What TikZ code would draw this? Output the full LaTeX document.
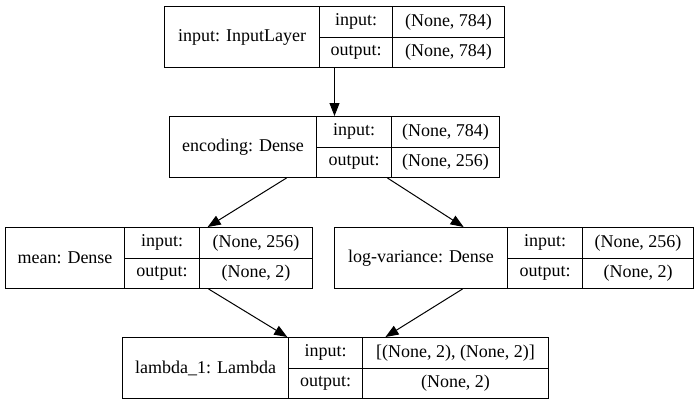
\documentclass[tikz,border=0pt]{standalone}
\usepackage{fontspec}
\setmainfont{Liberation Serif}
\usetikzlibrary{arrows.meta,calc,fit}
\tikzset{
  cell/.style={draw, line width=1pt, inner sep=0pt, anchor=north west, font=\fontsize{18}{20}\selectfont},
  edge/.style={-{Triangle[length=13pt,width=10pt]}, line width=1pt}
}
% name, x0, x1, x2, x3, ytop, label, input, output
\newcommand\kerasLayer[9]{%
  \node[cell, minimum width={#3-#2}, minimum height=61] (#1) at (#2,#6) {#7};
  \node[cell, minimum width={#4-#3}, minimum height=30.5] (#1-ik) at (#3,#6) {input:};
  \node[cell, minimum width={#4-#3}, minimum height=30.5] (#1-ok) at (#3,{#6+30.5}) {output:};
  \node[cell, minimum width={#5-#4}, minimum height=30.5] (#1-iv) at (#4,#6) {#8};
  \node[cell, minimum width={#5-#4}, minimum height=30.5] (#1-ov) at (#4,{#6+30.5}) {#9};
  \node[fit=(#1)(#1-ov), inner sep=0pt, outer sep=0pt] (#1-box) {};
}
\begin{document}
\begin{tikzpicture}[x=1pt,y=-1pt]
\useasboundingbox (0,0) rectangle (699,405);
\kerasLayer{inl}{164}{319}{392}{504}{6}{input: InputLayer}{(None, 784)}{(None, 784)}
\kerasLayer{enc}{169}{316}{391}{499}{116}{encoding: Dense}{(None, 784)}{(None, 256)}
\kerasLayer{mean}{5}{124}{199}{312}{227}{mean: Dense}{(None, 256)}{(None, 2)}
\kerasLayer{logv}{334}{507}{582}{693}{227}{log-variance: Dense}{(None, 256)}{(None, 2)}
\kerasLayer{lam}{122}{288}{362}{548}{337}{lambda\_1: Lambda}{[(None, 2), (None, 2)]}{(None, 2)}
\draw[edge] (inl-box.south) -- (enc-box.north);
\draw[edge] ($(enc-box.south west)!0.355!(enc-box.south east)$) -- ($(mean-box.north west)!0.658!(mean-box.north east)$);
\draw[edge] ($(enc-box.south west)!0.66!(enc-box.south east)$) -- ($(logv-box.north west)!0.36!(logv-box.north east)$);
\draw[edge] ($(mean-box.south west)!0.661!(mean-box.south east)$) -- ($(lam-box.north west)!0.387!(lam-box.north east)$);
\draw[edge] ($(logv-box.south west)!0.357!(logv-box.south east)$) -- ($(lam-box.north west)!0.617!(lam-box.north east)$);
\end{tikzpicture}
\end{document}
